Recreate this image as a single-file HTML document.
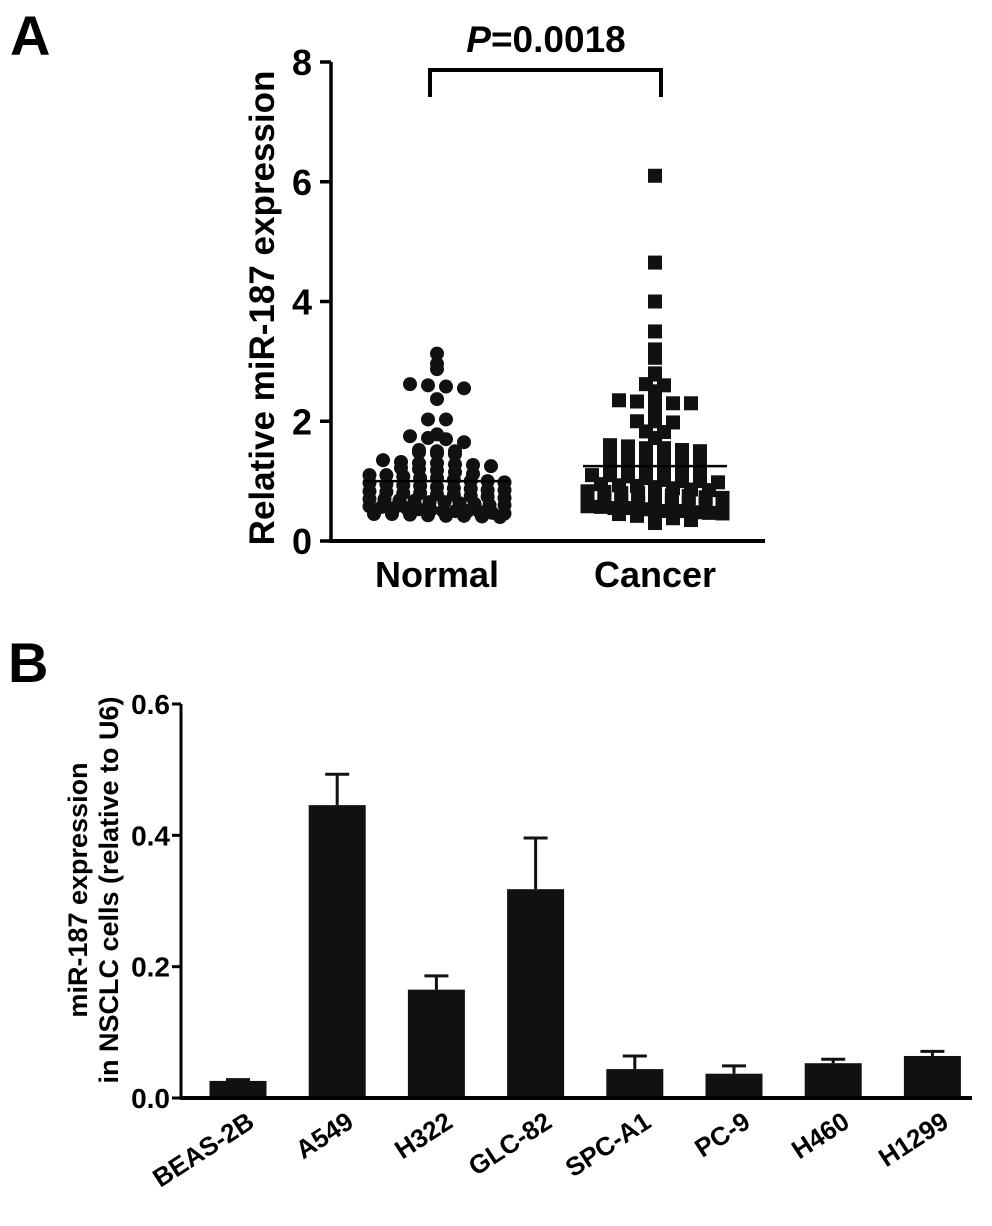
<!DOCTYPE html>
<html><head><meta charset="utf-8"><style>
html,body{margin:0;padding:0;background:#fff;}
svg{display:block;font-family:"Liberation Sans",Arial,sans-serif;font-weight:bold;}
</style></head><body>
<svg id="fig" width="992" height="1226" viewBox="0 0 992 1226">
<text x="10" y="55" font-size="56">A</text>
<text x="8" y="682" font-size="56">B</text>
<g id="pa"></g>
<g id="pb"></g>
</svg>
<script>
// ---------- Panel A data ----------
const groupsA = ["Normal", "Cancer"];
const normalVals = [3.13,2.96,2.87,2.62,2.6,2.58,2.55,2.37,2.03,2.03,1.78,1.75,1.72,1.7,1.65,1.52,1.5,1.5,1.48,1.46,1.45,
1.35,1.32,1.3,1.3,1.28,1.27,1.25,1.22,1.2,1.18,1.15,1.12,1.1,1.1,1.08,1.05,1.05,1.02,1.0,1.0,0.98,0.97,0.95,0.93,0.92,0.9,
0.88,0.87,0.85,0.85,0.83,0.82,0.8,0.8,0.78,0.77,0.75,0.74,0.72,0.7,0.7,0.68,0.67,0.65,0.65,0.63,0.62,0.6,0.6,0.58,0.57,
0.55,0.55,0.53,0.52,0.5,0.5,0.5,0.48,0.47,0.46,0.45,0.45,0.44,0.43,0.42,0.42,0.41,0.4];
const cancerVals = [6.1,4.65,4.0,3.5,3.2,3.06,2.8,2.78,2.62,2.6,2.5,2.35,2.33,2.32,2.3,2.3,2.17,2.0,2.0,1.98,1.83,1.82,1.72,
1.6,1.58,1.55,1.55,1.52,1.5,1.48,1.45,1.45,1.42,1.4,1.38,1.35,1.33,1.3,1.3,1.28,1.25,1.22,1.2,1.2,1.18,1.15,1.12,1.1,1.1,
1.08,1.05,1.02,1.0,1.0,0.98,0.95,0.93,0.92,0.9,0.88,0.86,0.85,0.83,0.82,0.8,0.8,0.78,0.76,0.75,0.73,0.72,0.7,0.7,0.68,0.66,
0.65,0.63,0.62,0.6,0.6,0.58,0.57,0.55,0.55,0.53,0.52,0.5,0.5,0.48,0.47,0.46,0.45,0.42,0.4,0.38,0.35,0.3];
const meansA = [1.0, 1.25];
const ticksA = [0,2,4,6,8];
const pLabel = "=0.0018";

// ---------- Panel B data ----------
const cells = ["BEAS-2B","A549","H322","GLC-82","SPC-A1","PC-9","H460","H1299"];
const barVals = [0.026,0.446,0.165,0.318,0.044,0.037,0.053,0.064];
const barErr = [0.002,0.047,0.021,0.078,0.02,0.012,0.006,0.007];
const ticksB = [0.0,0.2,0.4,0.6];

const NS="http://www.w3.org/2000/svg";
function mk(parent, tag, attrs){const e=document.createElementNS(NS,tag);for(const k in attrs)e.setAttribute(k,attrs[k]);parent.appendChild(e);return e;}

// ---- Panel A ----
const pa=document.getElementById('pa');
const yA=v=>541-v*(541-62)/8;
const xA=i=>437+i*218;
mk(pa,'line',{x1:331,y1:62,x2:331,y2:541,stroke:'#000','stroke-width':3.5});
mk(pa,'line',{x1:329,y1:541,x2:765,y2:541,stroke:'#000','stroke-width':4});
ticksA.forEach(t=>{
  const l=mk(pa,'line',{x1:320,y1:yA(t),x2:331,y2:yA(t),stroke:'#000','stroke-width':3.5});
  
  const tx=mk(pa,'text',{x:312,y:yA(t)+13,'font-size':36,'text-anchor':'end'});
  
  
  tx.textContent=t;
});
const yt=mk(pa,'text',{x:0,y:0,'font-size':35,'text-anchor':'middle',transform:'translate(274,308) rotate(-90)'});


yt.textContent='Relative miR-187 expression';
groupsA.forEach((g,i)=>{
  const t=mk(pa,'text',{x:xA(i),y:587,'font-size':36,'text-anchor':'middle'});
  
  
  t.textContent=g;
});
function swarm(vals,gi,shape){
  const rows={};
  vals.forEach(v=>{const r=Math.round(v/0.13);(rows[r]=rows[r]||[]).push(v);});
  Object.keys(rows).forEach(r=>{
    const arr=rows[r];const n=arr.length;const sp=n>8?135/(n-1):18;
    arr.forEach((v,k)=>{
      const cx=xA(gi)+(k-(n-1)/2)*sp;const cy=yA(v);
      let e;
      if(shape==='c'){e=mk(pa,'circle',{cx:cx,cy:cy,r:7,fill:'#111'});}
      else{e=mk(pa,'rect',{x:cx-7,y:cy-7,width:14,height:14,fill:'#111'});}
      
      
    });
  });
}
swarm(normalVals,0,'c');
swarm(cancerVals,1,'s');
meansA.forEach((m,i)=>{
  const l=mk(pa,'line',{x1:xA(i)-72,y1:yA(m),x2:xA(i)+72,y2:yA(m),stroke:'#000','stroke-width':2.5});
  
  
});
const br=mk(pa,'path',{d:`M${xA(0)-7},97 V70 H${xA(1)+6} V97`,fill:'none',stroke:'#000','stroke-width':4});


const pt=mk(pa,'text',{x:546,y:52,'font-size':37,'text-anchor':'middle'});


const ps=mk(pt,'tspan',{'font-style':'italic'});ps.textContent='P';
const ps2=mk(pt,'tspan',{});ps2.textContent=pLabel;

// ---- Panel B ----
const pb=document.getElementById('pb');
const yB=v=>1098-v*(1098-704)/0.6;
const xB=i=>238+i*99.2;
const bw=57;
ticksB.forEach(t=>{
  const l=mk(pb,'line',{x1:172,y1:yB(t),x2:181,y2:yB(t),stroke:'#000','stroke-width':3});
  
  const tx=mk(pb,'text',{x:170,y:yB(t)+10,'font-size':28,'text-anchor':'end'});
  
  
  tx.textContent=t.toFixed(1);
});
barVals.forEach((v,i)=>{
  const cx=xB(i);
  const e=barErr[i];
  const el=mk(pb,'path',{d:`M${cx},${yB(v)} V${yB(v+e)} M${cx-12},${yB(v+e)} H${cx+12}`,stroke:'#111','stroke-width':3,fill:'none'});
  
  
  const r=mk(pb,'rect',{x:cx-bw/2,y:yB(v),width:bw,height:yB(0)-yB(v),fill:'#111'});
  
  
  const t=mk(pb,'text',{x:0,y:0,'font-size':26,'text-anchor':'end',transform:`translate(${cx+18},${1126}) rotate(-33)`});
  
  
  t.textContent=cells[i];
});
mk(pb,'line',{x1:181,y1:704,x2:181,y2:1099,stroke:'#000','stroke-width':3});
mk(pb,'line',{x1:180,y1:1098,x2:972,y2:1098,stroke:'#000','stroke-width':4});
const t1=mk(pb,'text',{x:0,y:0,'font-size':27,'text-anchor':'middle',transform:'translate(87,890) rotate(-90)'});


t1.textContent='miR-187 expression';
const t2=mk(pb,'text',{x:0,y:0,'font-size':27,'text-anchor':'middle',transform:'translate(118,890) rotate(-90)'});


t2.textContent='in NSCLC cells (relative to U6)';
</script>
</body></html>
